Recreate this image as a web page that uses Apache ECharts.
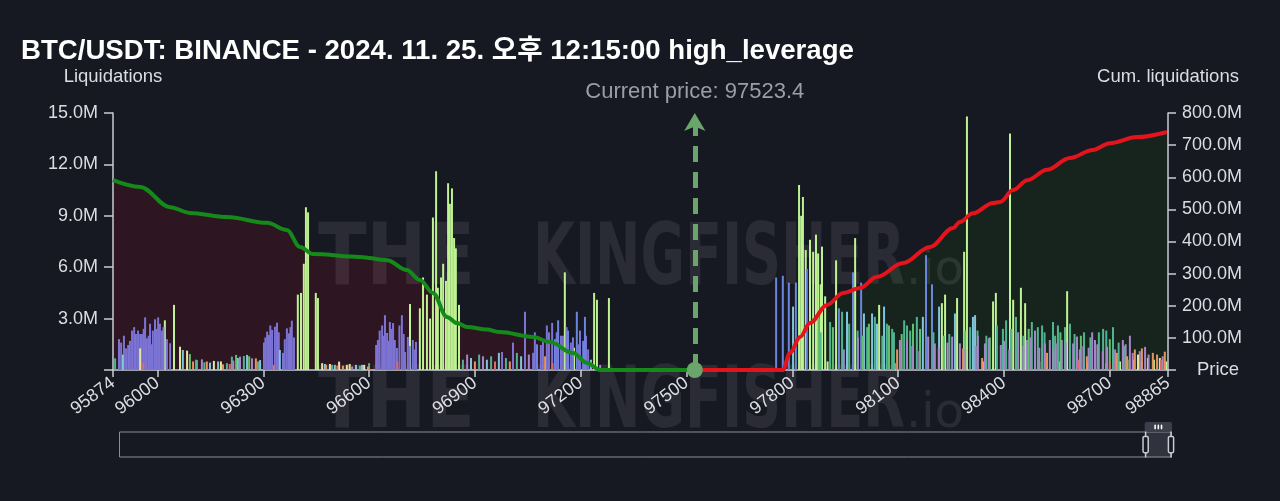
<!DOCTYPE html>
<html><head><meta charset="utf-8">
<script src="https://cdn.jsdelivr.net/npm/echarts@6/dist/echarts.min.js"></script>
<style>html,body{margin:0;padding:0;background:#161822;}#c{width:1280px;height:501px;}</style>
</head><body><div id="c"></div>
<script>
const FONT = '"Liberation Sans", Arial, "Noto Sans CJK KR", sans-serif';
const titleText = 'BTC/USDT: BINANCE - 2024. 11. 25. 오후 12:15:00 high_leverage';
const currentPrice = 97523.4;
const xTickLabels = [95874, 96000, 96300, 96600, 96900, 97200, 97500, 97800, 98100, 98400, 98700, 98865];

// cumulative liquidations (M) - left side (longs) and right side (shorts)
const cumLeftPrices = [95874, 95951, 96036, 96092, 96197, 96311, 96367, 96404, 96441, 96574, 96651, 96707, 96744, 96781, 96821, 96849, 96878, 96934, 96971, 97065, 97113, 97178, 97218, 97255, 97523.4];
const cumLeftValues = [591, 570, 507, 489, 476, 458, 436, 383, 361, 352, 342, 311, 280, 240, 165, 146, 134, 126, 118, 103, 87, 53, 22, 0, 0];
const cumRightPrices = [97523.4, 97773, 97793, 97822, 97850, 97898, 97944, 97992, 98040, 98114, 98190, 98256, 98275, 98312, 98369, 98389, 98426, 98466, 98522, 98587, 98652, 98700, 98777, 98862];
const cumRightValues = [0, 0, 53, 103, 146, 202, 240, 255, 290, 333, 383, 442, 461, 488, 520, 523, 560, 591, 623, 660, 685, 706, 725, 741];

// liquidation bars (M) by leverage group
const limePrices = [96021,96047,96398,96407,96415,96421,96427,96449,96455,96716,96744,96753,96764,96773,96781,96790,96795,96804,96810,96818,96824,96829,96835,96841,96846,96855,97155,97181,97238,97246,97280,97819,97825,97830,97838,97850,97859,97867,97873,97880,97884,97893,97924,97978,98046,98224,98233,98267,98287,98295,98369,98377,98417,98426,98448,98460,98559,98579,98638,98729,98766,98808,98842,97900,98090,98180,98340,98500,98690,98750,98790,98825,98860];
const limeValues = [2.9,3.8,4.4,4.5,6.2,9.5,9.2,4.5,4.2,3.85,3.6,5.4,4.4,3.0,8.9,11.6,4.8,5.4,6.2,5.2,10.9,9.7,10.6,7.7,7.1,3.8,5.7,1.3,4.5,4.1,4.2,10.8,9.0,10.1,7.0,7.6,6.9,7.9,6.8,5.0,7.2,4.3,6.4,7.7,3.8,3.9,4.4,4.2,6.9,14.8,4.0,4.5,13.8,4.1,4.8,3.9,0.5,4.6,0.4,0.5,0.6,0.7,0.7,0.5,0.4,0.6,0.5,0.5,0.4,0.6,0.5,0.6,0.5];
const purplePrices = [95891,95897,95905,95911,95917,95922,95928,95934,95939,95945,95951,95956,95961,95965,95970,95975,95979,95983,95987,95993,95998,96002,96007,96013,96017,96027,96036,96302,96306,96311,96316,96320,96325,96333,96339,96344,96356,96361,96367,96373,96377,96381,96387,96620,96625,96630,96637,96641,96645,96651,96655,96659,96663,96668,96673,96679,96686,96693,96698,96702,96710,96715,96724,96729,96733,96977,97008,97042,97065,97070,97087,97093,97104,97110,97119,97132,97144,97150,97160,97172,97178,97195,97198,97215,97221];
const purpleValues = [1.8,1.6,2.0,1.26,1.46,1.7,2.3,2.5,2.1,2.3,2.1,2.1,2.4,3.07,1.85,2.0,2.7,1.5,2.3,2.96,2.4,3.07,2.7,2.3,2.5,1.8,1.56,1.6,1.9,2.24,2.04,2.6,2.34,2.53,2.76,2.2,1.0,1.8,2.43,2.14,2.5,2.88,1.9,1.46,1.75,2.3,2.6,2.0,3.2,2.16,1.7,2.8,2.4,2.74,1.75,1.28,2.6,3.2,2.1,1.05,1.93,1.4,1.75,1.2,1.64,1.05,1.6,3.4,1.0,2.2,1.46,1.8,2.6,2.2,2.75,2.2,2.0,2.0,2.5,1.6,1.9,1.5,2.3,2.0,1.2];
const bluePrices = [97076,97127,97136,97164,97189,97207,97212,97754,97773,97790,97810,97841,97932,97972,97995,98179,98196];
const blueValues = [1.5,1.8,2.9,2.3,3.4,1.7,3.1,5.4,5.5,5.1,5.1,5.9,3.6,5.7,5.1,6.7,5.0];
const cyanPrices = [95902,96072,96110,96149,96172,96228,96254,96291,96347,96475,96503,96563,96580,96889,96934,96968,97031,97229,97802,97955,98003,98026,98040,98060,98170,98216,98261,98312,98318];
const cyanValues = [0.9,1.17,0.6,0.43,0.5,0.7,0.88,0.58,1.17,0.35,0.3,0.3,0.3,0.7,0.6,1.0,0.8,0.6,3.7,3.4,3.3,3.3,2.7,3.7,3.1,3.7,3.3,3.1,3.2];
const tealPrices = [95880,96112,96133,96197,96211,96245,96285,96495,96574,96600,96866,96912,96946,96988,97019,97880,97907,97941,97961,97985,98012,98034,98055,98068,98083,98088,98117,98125,98134,98153,98200,98245,98304,98325,98350,98380,98397,98406,98420,98434,98455,98479,98496,98508,98515,98539,98545,98553,98573,98587,98600,98627,98645,98669,98681,98690,98709,98725,98740];
const tealValues = [0.68,0.58,0.45,0.4,0.78,0.82,0.5,0.3,0.25,0.4,0.6,0.9,0.8,0.7,1.0,2.2,2.8,3.4,2.7,2.3,2.5,3.1,2.0,2.7,2.4,2.2,2.9,2.6,2.3,3.1,2.2,2.1,2.5,2.3,2.0,2.6,2.4,2.9,2.4,3.1,2.0,2.8,2.5,2.6,2.2,2.8,2.0,2.6,2.5,2.7,2.1,2.2,1.9,2.2,2.4,2.3,2.5,1.6,1.4];
const greenPrices = [96092,96223,96260,97875,97915,98000,98017,98074,98110,98142,98162,98230,98290,98360,98470,98560,98618,98700];
const greenValues = [0.93,0.88,0.8,3.0,2.5,2.0,2.7,2.6,2.1,2.7,2.4,2.0,2.3,1.9,2.4,2.2,2.0,1.8];
const violetPrices = [96126,96215,96234,96268,96552,96878,96923,97053,97255,97946,97986,98105,98125,98140,98160,98185,98204,98215,98240,98253,98275,98290,98320,98326,98346,98357,98391,98400,98415,98440,98455,98465,98475,98488,98500,98516,98530,98540,98547,98564,98575,98596,98607,98615,98625,98640,98650,98658,98665,98680,98692,98715,98737,98745,98757,98765,98785,98800,98810,98850];
const violetValues = [0.62,0.55,0.78,0.68,0.2,0.9,0.8,0.9,0.3,1.2,1.9,1.75,1.75,1.4,1.1,1.95,1.55,1.3,1.6,1.95,1.55,1.2,1.4,2.0,1.55,1.85,1.46,1.7,1.2,2.2,1.4,1.75,1.9,2.3,1.3,1.55,1.75,1.2,1.55,1.75,1.6,1.55,1.95,1.2,1.4,1.3,2.2,1.75,1.5,1.1,1.35,1.2,1.75,1.5,2.0,1.0,1.1,1.35,0.9,0.8];
const orangePrices = [96101,96140,96186,96279,96478,96526,96597,96900,96999,97099,98097,98284,98338,98522,98635,98720,98749,98771,98791,98822,98834,98856];
const orangeValues = [0.5,0.5,0.33,0.68,0.3,0.25,0.2,0.5,0.5,0.8,1.2,1.26,0.7,1.0,0.8,1.0,0.8,1.2,1.26,1.0,0.9,1.07];
const yellowPrices = [95951,96064,96084,96160,96180,96467,96489,96515,96537,96545,96586,98780];
const yellowValues = [1.26,1.36,1.13,0.53,0.5,0.4,0.35,0.49,0.3,0.35,0.3,0.9];
const redPrices = [96957,95960,96205,96330,96510,96680,97120,98610,98700,98845];
const redValues = [0.5,0.4,0.35,0.3,0.25,0.5,0.4,0.6,0.5,0.6];

const pairs = (xs, ys) => xs.map((x, i) => [x, ys[i]]);
function bars(name, color, xs, ys) {
  return {
    name, type: 'bar', xAxisIndex: 0, yAxisIndex: 0, barWidth: 2, barGap: '-100%',
    itemStyle: { color }, data: pairs(xs, ys), z: 2, silent: true, animation: false
  };
}
const mFmt = v => v === 0 ? '' : v.toFixed(1) + 'M';
const axisColor = '#c9cbd2';
const labelColor = '#dcdde2';
const wmFill = 'rgba(255,255,255,0.085)';
const wmStyle = (text, size) => ({ text, font: 'bold ' + size + 'px "DejaVu Sans Condensed", sans-serif', fill: wmFill });

const chart = echarts.init(document.getElementById('c'), null, { renderer: 'canvas' });
chart.setOption({
  backgroundColor: '#161822',
  animation: false,
  title: {
    text: titleText, left: 16, top: 33,
    textStyle: { color: '#ffffff', fontSize: 27.6, fontWeight: 'bold', fontFamily: FONT }
  },
  legend: { show: false },
  graphic: [
    { type: 'text', left: 318, top: 219, z: 1, scaleX: 0.92, style: wmStyle('THE', 86) },
    { type: 'text', left: 533, top: 219, z: 1, scaleX: 0.70, style: wmStyle('KINGFISHER', 86) },
    { type: 'text', left: 906, top: 248, z: 1, style: { text: '.io', font: '48px "DejaVu Sans", sans-serif', fill: wmFill } },
    { type: 'text', left: 318, top: 362, z: 1, scaleX: 0.92, style: wmStyle('THE', 86) },
    { type: 'text', left: 533, top: 362, z: 1, scaleX: 0.70, style: wmStyle('KINGFISHER', 86) },
    { type: 'text', left: 906, top: 391, z: 1, style: { text: '.io', font: '48px "DejaVu Sans", sans-serif', fill: wmFill } }
  ],
  grid: { left: 113, right: 112, top: 113, bottom: 131, containLabel: false },
  xAxis: [{
    type: 'value', min: 95874, max: 98865,
    name: 'Price', nameLocation: 'end', nameGap: 29,
    nameTextStyle: { color: labelColor, fontSize: 18.5, fontFamily: FONT },
    axisLine: { show: true, lineStyle: { color: axisColor, width: 1.5 } },
    axisTick: { show: true, length: 7, lineStyle: { color: axisColor, width: 1.5 }, customValues: xTickLabels },
    axisLabel: { color: labelColor, fontSize: 18, rotate: 37, margin: 11, fontFamily: FONT, customValues: xTickLabels, formatter: v => String(v) },
    splitLine: { show: false }
  }, {
    type: 'value', show: false, min: 0, max: 100
  }],
  yAxis: [{
    type: 'value', min: 0, max: 15, interval: 3, position: 'left',
    name: 'Liquidations', nameLocation: 'end', nameGap: 27,
    nameTextStyle: { color: labelColor, fontSize: 18.5, fontFamily: FONT },
    axisLine: { show: true, lineStyle: { color: axisColor, width: 1.5 } },
    axisTick: { show: true, length: 9, lineStyle: { color: axisColor, width: 1.5 } },
    axisLabel: { color: labelColor, fontSize: 18, margin: 15, fontFamily: FONT, formatter: mFmt },
    splitLine: { show: false }
  }, {
    type: 'value', min: 0, max: 800, interval: 100, position: 'right',
    name: 'Cum. liquidations', nameLocation: 'end', nameGap: 27,
    nameTextStyle: { color: labelColor, fontSize: 18.5, fontFamily: FONT },
    axisLine: { show: true, lineStyle: { color: axisColor, width: 1.5 } },
    axisTick: { show: true, length: 8, lineStyle: { color: axisColor, width: 1.5 } },
    axisLabel: { color: labelColor, fontSize: 18, margin: 14, fontFamily: FONT, formatter: mFmt },
    splitLine: { show: false }
  }],
  dataZoom: [{
    type: 'slider', xAxisIndex: 1, start: 97.4, end: 100,
    left: 115, right: 112, top: 422, height: 26,
    showDetail: false, showDataShadow: false, brushSelect: true,
    borderColor: '#8a8d96', backgroundColor: 'rgba(0,0,0,0)',
    fillerColor: 'rgba(110,115,130,0.3)',
    handleStyle: { color: '#161822', borderColor: '#c9cbd2', borderWidth: 1.5 },
    moveHandleSize: 10,
    moveHandleStyle: { color: '#3c3f4b', opacity: 1 },
    emphasis: { moveHandleStyle: { color: '#3c3f4b', opacity: 1 } }
  }],
  series: [
    { name: 'cumLongArea', type: 'line', xAxisIndex: 0, yAxisIndex: 1, data: pairs(cumLeftPrices, cumLeftValues),
      smooth: 0.35, smoothMonotone: 'x', symbol: 'none', lineStyle: { width: 0 }, areaStyle: { color: '#2d1521', opacity: 1 }, z: 0, silent: true },
    { name: 'cumShortArea', type: 'line', xAxisIndex: 0, yAxisIndex: 1, data: pairs(cumRightPrices, cumRightValues),
      smooth: 0.35, smoothMonotone: 'x', symbol: 'none', lineStyle: { width: 0 }, areaStyle: { color: '#17241e', opacity: 1 }, z: 0, silent: true },
    bars('100x', '#bff292', limePrices, limeValues),
    bars('5x', '#7c74d4', purplePrices, purpleValues),
    bars('10x', '#6b86dc', bluePrices, blueValues),
    bars('25x', '#80c5dd', cyanPrices, cyanValues),
    bars('50x', '#4fb48f', tealPrices, tealValues),
    bars('75x', '#62c06c', greenPrices, greenValues),
    bars('3x', '#a586c9', violetPrices, violetValues),
    bars('20x', '#e8935c', orangePrices, orangeValues),
    bars('2x', '#e4e79a', yellowPrices, yellowValues),
    bars('1x', '#e06a6a', redPrices, redValues),
    { name: 'cumLong', type: 'line', xAxisIndex: 0, yAxisIndex: 1, data: pairs(cumLeftPrices, cumLeftValues),
      smooth: 0.35, smoothMonotone: 'x', symbol: 'none', lineStyle: { width: 4, color: '#15891a' }, z: 3, silent: true },
    { name: 'cumShort', type: 'line', xAxisIndex: 0, yAxisIndex: 1, data: pairs(cumRightPrices, cumRightValues),
      smooth: 0.35, smoothMonotone: 'x', symbol: 'none', lineStyle: { width: 4, color: '#e3141b' }, z: 3, silent: true,
      markLine: {
        silent: true, animation: false,
        symbol: ['circle', 'arrow'], symbolSize: [16, 18],
        lineStyle: { color: '#6aa66b', width: 5, type: [16, 10], opacity: 1 },
        itemStyle: { color: '#6aa66b' },
        label: { show: true, position: 'end', distance: 10, formatter: 'Current price: ' + currentPrice, color: '#9c9ea7', fontSize: 22, fontFamily: FONT },
        data: [{ xAxis: currentPrice }]
      } }
  ]
});
</script>
</body></html>
